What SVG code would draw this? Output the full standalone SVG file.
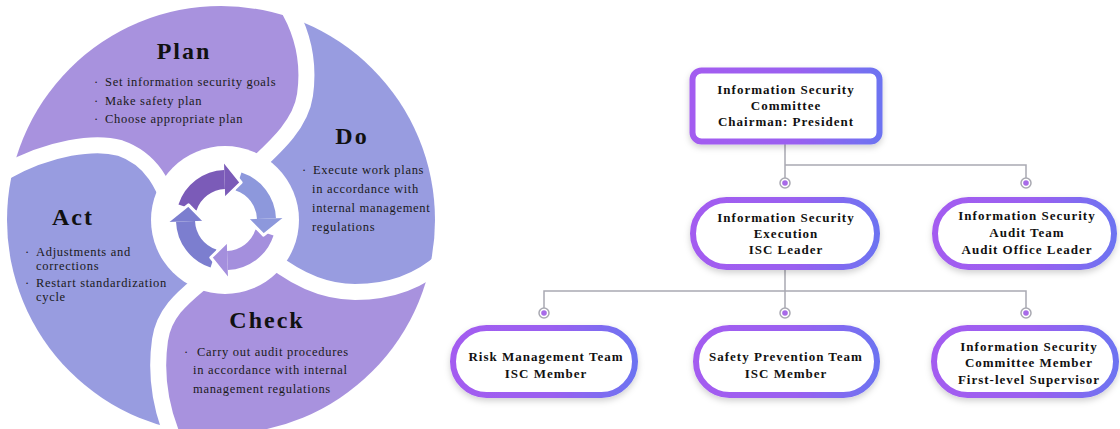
<svg xmlns="http://www.w3.org/2000/svg" width="1120" height="429" viewBox="0 0 1120 429">
  <defs>
    <clipPath id="disk"><circle cx="221" cy="220" r="214"/></clipPath>
    <linearGradient id="edge" x1="0" y1="0" x2="1" y2="0">
      <stop offset="0" stop-color="#a35cf0"/>
      <stop offset="0.55" stop-color="#9a60f0"/>
      <stop offset="1" stop-color="#6d73f1"/>
    </linearGradient>
    <filter id="shadow" x="-10%" y="-20%" width="120%" height="150%">
      <feDropShadow dx="0" dy="3" stdDeviation="3" flood-color="#000" flood-opacity="0.18"/>
    </filter>
    <style>
      .petal-a{fill:#a892de}
      .petal-b{fill:#989ce0}
      .gap{fill:none;stroke:#fff;stroke-width:16;stroke-linecap:round}
      .head{font-family:"Liberation Serif","Times New Roman",serif;font-weight:bold;font-size:24px;letter-spacing:2px;fill:#111;text-anchor:middle}
      .body{font-family:"Liberation Serif","Times New Roman",serif;font-size:12.5px;letter-spacing:0.7px;fill:#1a1a1a}
      .tip{stroke:#fff;stroke-width:3;stroke-linejoin:round}
      .box{fill:#fff;stroke:url(#edge);stroke-width:6;filter:url(#shadow)}
      .label{font-family:"Liberation Serif","Times New Roman",serif;font-weight:bold;font-size:13px;letter-spacing:1px;fill:#111;text-anchor:middle}
      .wire{fill:none;stroke:#a9a9b2;stroke-width:1.5}
      .port{fill:#fff;stroke:#a9a9b2;stroke-width:1.5}
      .port-in{fill:#a86ae8}
    </style>
  </defs>

  <rect width="1120" height="429" fill="#fff"/>

  <!-- PDCA cycle -->
  <g id="pdca">
    <g clip-path="url(#disk)">
      <path id="plan-petal" class="petal-a" d="M225,220 L175,215 C165,190 155,160 120,148 C95,141 50,147 5,172 L-20,180 L-20,-20 L285,-20 L285,3 C302,30 310,60 305,95 C300,130 265,155 240,180 Z"/>
      <path id="do-petal" class="petal-b" d="M225,220 L240,180 C265,155 300,130 305,95 C310,60 302,30 285,3 L285,-20 L460,-20 L460,258 L445,258 C420,282 390,292 355,292 C310,292 275,265 250,240 Z"/>
      <path id="check-petal" class="petal-a" d="M225,220 L250,240 C275,265 310,292 355,292 C390,292 420,282 445,258 L460,258 L460,450 L172,450 L172,435 C160,405 155,375 160,340 C165,305 195,290 215,270 Z"/>
      <path id="act-petal" class="petal-b" d="M225,220 L215,270 C195,290 165,305 160,340 C155,375 160,405 172,435 L172,450 L-20,450 L-20,180 L5,172 C50,147 95,141 120,148 C155,160 165,190 175,215 Z"/>
    </g>
    <!-- white gaps between petals -->
    <path class="gap" d="M175,215 C165,190 155,160 120,148 C95,141 50,147 5,172"/>
    <path class="gap" d="M240,180 C265,155 300,130 305,95 C310,60 302,30 285,3"/>
    <path class="gap" d="M250,240 C275,265 310,292 355,292 C390,292 420,282 445,258"/>
    <path class="gap" d="M215,270 C195,290 165,305 160,340 C155,375 160,405 172,435"/>
    <circle cx="225" cy="220" r="74" fill="#fff"/>

    <!-- cycle arrows: bodies first, then heads -->
    <g id="cycle-arrows">
      <path fill="#7b5bb8" d="M178.45,204.55 A50,50 0 0 1 224.25,170.03 L224.92,189.02 A31,31 0 0 0 196.52,210.42 Z"/>
      <path fill="#8d98dc" d="M241.45,172.45 A50,50 0 0 1 275.97,218.25 L256.98,218.92 A31,31 0 0 0 235.58,190.52 Z"/>
      <path fill="#a48fdd" d="M273.55,235.45 A50,50 0 0 1 227.75,269.97 L227.08,250.98 A31,31 0 0 0 255.48,229.58 Z"/>
      <path fill="#7c7ecf" d="M210.55,267.55 A50,50 0 0 1 176.03,221.75 L195.02,221.08 A31,31 0 0 0 216.42,249.48 Z"/>
      <path class="tip" fill="#7b5bb8" d="M223.94,161.04 L241.17,182.45 L225.23,198.01"/>
      <path class="tip" fill="#8d98dc" d="M284.96,217.94 L263.55,235.17 L247.99,219.23"/>
      <path class="tip" fill="#a48fdd" d="M228.06,278.96 L210.83,257.55 L226.77,241.99"/>
      <path class="tip" fill="#7c7ecf" d="M167.04,222.06 L188.45,204.83 L204.01,220.77"/>
    </g>

    <text class="head" x="184" y="59">Plan</text>
    <text class="body"><tspan x="94" y="86">·</tspan><tspan x="105">Set information security goals</tspan></text>
    <text class="body"><tspan x="94" y="105">·</tspan><tspan x="105">Make safety plan</tspan></text>
    <text class="body"><tspan x="94" y="123">·</tspan><tspan x="105">Choose appropriate plan</tspan></text>

    <text class="head" x="352" y="144">Do</text>
    <text class="body"><tspan x="302" y="174">·</tspan><tspan x="313">Execute work plans</tspan></text>
    <text class="body" x="312" y="193">in accordance with</text>
    <text class="body" x="312" y="212">internal management</text>
    <text class="body" x="312" y="231">regulations</text>

    <text class="head" x="73" y="225">Act</text>
    <text class="body"><tspan x="25" y="256">·</tspan><tspan x="36">Adjustments and</tspan></text>
    <text class="body" x="36" y="269.5">corrections</text>
    <text class="body"><tspan x="25" y="287">·</tspan><tspan x="36">Restart standardization</tspan></text>
    <text class="body" x="36" y="300.5">cycle</text>

    <text class="head" x="267" y="328">Check</text>
    <text class="body"><tspan x="184" y="356">·</tspan><tspan x="197">Carry out audit procedures</tspan></text>
    <text class="body" x="193" y="374">in accordance with internal</text>
    <text class="body" x="193" y="393">management regulations</text>
  </g>

  <!-- organisation chart connectors -->
  <g id="connectors">
    <path class="wire" d="M785,144 V178 M785,165 H1026 V178 M785,270 V308 M544,308 V291 H1026 V308"/>
    <circle class="port" cx="785" cy="183" r="5"/><circle class="port-in" cx="785" cy="183" r="2.8"/>
    <circle class="port" cx="1026" cy="183" r="5"/><circle class="port-in" cx="1026" cy="183" r="2.8"/>
    <circle class="port" cx="544" cy="313" r="5"/><circle class="port-in" cx="544" cy="313" r="2.8"/>
    <circle class="port" cx="785" cy="313" r="5"/><circle class="port-in" cx="785" cy="313" r="2.8"/>
    <circle class="port" cx="1026" cy="313" r="5"/><circle class="port-in" cx="1026" cy="313" r="2.8"/>
  </g>

  <g id="committee">
    <rect class="box" x="692.5" y="70.5" width="187" height="71" rx="9"/>
    <text class="label" x="786" y="94">Information Security</text>
    <text class="label" x="786" y="110">Committee</text>
    <text class="label" x="786" y="126">Chairman: President</text>
  </g>

  <g id="execution">
    <rect class="box" x="693" y="200" width="184" height="67" rx="33.5"/>
    <text class="label" x="786" y="222">Information Security</text>
    <text class="label" x="786" y="238">Execution</text>
    <text class="label" x="786" y="254">ISC Leader</text>
  </g>

  <g id="audit-team">
    <rect class="box" x="935" y="200" width="179" height="67" rx="33.5"/>
    <text class="label" x="1027" y="220">Information Security</text>
    <text class="label" x="1027" y="237">Audit Team</text>
    <text class="label" x="1027" y="254">Audit Office Leader</text>
  </g>

  <g id="risk-team">
    <rect class="box" x="453" y="328" width="182" height="67" rx="33.5"/>
    <text class="label" x="546" y="361">Risk Management Team</text>
    <text class="label" x="546" y="378">ISC Member</text>
  </g>

  <g id="prevention-team">
    <rect class="box" x="696" y="328" width="181" height="67" rx="33.5"/>
    <text class="label" x="786" y="361">Safety Prevention Team</text>
    <text class="label" x="786" y="378">ISC Member</text>
  </g>

  <g id="committee-member">
    <rect class="box" x="934" y="328" width="182" height="67" rx="33.5"/>
    <text class="label" x="1029" y="351">Information Security</text>
    <text class="label" x="1029" y="367">Committee Member</text>
    <text class="label" x="1029" y="384">First-level Supervisor</text>
  </g>
</svg>
